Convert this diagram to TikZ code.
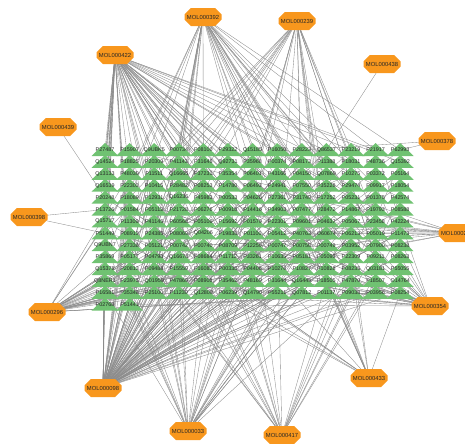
\documentclass[tikz,border=0pt]{standalone}
\usepackage{fontspec}
\setmainfont{Liberation Sans}
\usetikzlibrary{shapes.misc,backgrounds}
\definecolor{molorange}{RGB}{248,151,29}
\definecolor{protgreen}{RGB}{112,194,114}
\begin{document}
\begin{tikzpicture}[x=0.03cm,y=-0.03cm,
	mol/.style={chamfered rectangle,chamfered rectangle xsep=0.2cm,chamfered rectangle ysep=0.13cm,
		fill=molorange,draw=none,minimum width=37*0.03cm,minimum height=18*0.03cm,inner sep=0pt,
		font=\fontsize{5}{5}\selectfont,text=black!85},
	prot/.style={inner sep=0pt,font=\fontsize{4.6}{5}\selectfont,text=black!85},
	leaf/.style={fill=protgreen},
	edge/.style={draw=black!45,line width=0.3pt}]
	\useasboundingbox (0,0) rectangle (465,444);
	% targets
	\foreach \lab [count=\j] in {
		P27487,P15907,Q9UBK5,P00734,P08100,P29322,Q15185,P16050,P28223,Q86537,P23219,P21917,P62993,
		Q14524,P18825,P20309,P41143,P31645,Q92731,P35968,P00374,P08173,P11388,P18031,P48736,Q15392,
		Q13133,P48039,P11511,Q16665,P37231,P35354,P06401,P43166,P04150,Q07869,P10275,P03372,P05164,
		Q16539,P22303,P10415,P28482,P08253,P14780,P06493,P24941,P07550,P35228,P29474,P09917,P18054,
		P20248,P18089,P12931,Q16236,P45983,P00533,P04626,P27361,P31749,P17252,P05231,P01375,P42574,
		P13726,P01584,P05112,P21728,P06276,P00918,P14416,P34903,P07477,P28472,P14867,P19793,P08588,
		Q15717,P11309,P41145,P60568,P05106,P15692,P01579,P22301,P09601,P04637,P05067,P23458,P42224,
		P51449,P08913,P24385,P08069,Q04206,P19838,P01100,P05412,P40763,O60674,P06213,P05019,P11473,
		Q9UBN7,P27338,P05121,P00742,P00740,P08709,P12259,P00747,P00750,P00749,P03952,P07900,P08238,
		P35869,P05177,P04798,Q16678,P08684,P11712,P33261,P10635,P05181,P05093,P22309,P09211,P08263,
		Q15378,P20813,P09488,P15559,P16083,P00338,P04406,P10276,P10827,P10828,P08235,Q03181,P55055,
		Q8NER1,P23975,Q01959,P47869,P08908,P35462,P48169,P31644,Q16445,P18505,P47870,P18507,O14764,
		P16581,P35348,P25100,P11230,Q12809,P06239,Q14790,P55211,Q07812,P01137,P09038,P03956,P08254,
		P02768,P51441}{
		\pgfmathsetmacro\px{105+24.6*mod(\j-1,13)}
		\pgfmathsetmacro\py{150+11.9*int((\j-1)/13)}
		\fill[leaf] (\px,\py) ++(-13.5,6) -- ++(27,0) -- ++(-13.5,-13) -- cycle;
		\node[prot] (p\j) at (\px,\py) {\lab};
	}
	% compounds
	\node[mol] (m392) at (203,17) {MOL000392};
	\node[mol] (m239) at (297,21) {MOL000239};
	\node[mol] (m422) at (115,55) {MOL000422};
	\node[mol] (m438) at (382,64) {MOL000438};
	\node[mol] (m378) at (437,141) {MOL000378};
	\node[mol] (m439) at (58,127) {MOL000439};
	\node[mol] (m398) at (29,217) {MOL000398};
	\node[mol] (m211) at (457,233) {MOL000211};
	\node[mol] (m296) at (47,312) {MOL000296};
	\node[mol] (m098) at (103,388) {MOL000098};
	\node[mol] (m033) at (188,431) {MOL000033};
	\node[mol] (m417) at (282,435) {MOL000417};
	\node[mol] (m354) at (430,306) {MOL000354};
	\node[mol] (m433) at (369,378) {MOL000433};
	\begin{pgfonlayer}{background}
		\pgfmathsetseed{7}
		\foreach \m/\n in {m098/120,m422/60,m392/35,m239/25,m296/35,m033/30,m417/20,m354/30,m433/15,m211/15}{
			\foreach \k in {1,...,\n}{
				\pgfmathrandominteger{\t}{1}{171}
				\draw[edge] (\m.center) -- (p\t.center);
			}
		}
		\draw[edge] (m438.center) -- (p10.center);
		\draw[edge] (m378.center) -- (p9.center);
		\draw[edge] (m378.center) -- (p13.center);
		\draw[edge] (m439.center) -- (p53.center);
		\draw[edge] (m398.center) -- (p66.center);
		\draw[edge] (m398.center) -- (p92.center);
	\end{pgfonlayer}
\end{tikzpicture}
\end{document}
